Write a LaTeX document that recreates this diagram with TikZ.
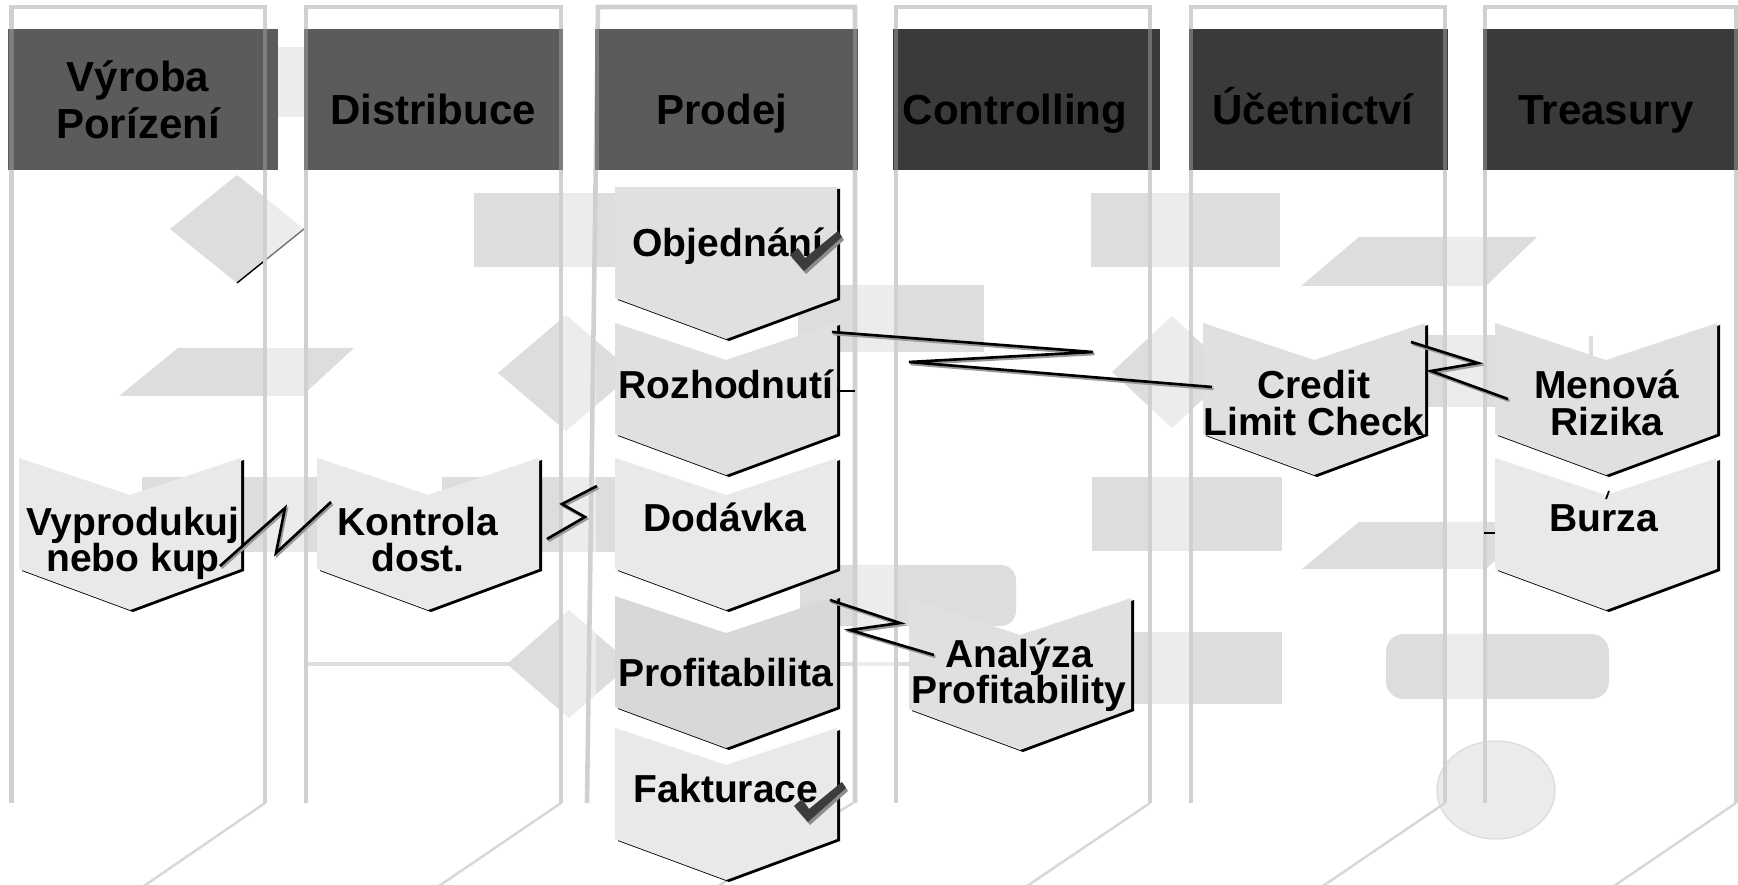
\documentclass[tikz,border=0pt]{standalone}
\usepackage{fontspec}
\setmainfont{Liberation Sans}

\definecolor{hdrdark}{HTML}{5B5B5B}
\definecolor{hdrblack}{HTML}{3A3A3A}
\definecolor{ghostgray}{HTML}{DDDDDD}
\definecolor{ovalgray}{HTML}{EBEBEB}
\definecolor{framegray}{HTML}{D0D0D0}
\definecolor{boxgray}{HTML}{E0E0E0}
\definecolor{boxlight}{HTML}{E9E9E9}
\definecolor{boxdark}{HTML}{D8D8D8}
\definecolor{tickgray}{HTML}{3C3C3C}

% two centred lines, baseline of the first one
\newcommand{\twolines}[2]{\vtop{\lineskiplimit=-\maxdimen\halign{\hfil##\hfil\cr#1\cr#2\cr}}}
% chevron: left x, top y, notch depth, fill
\newcommand{\chevron}[4]{
   \fill[black, shift={(3,2)}] (#1,#2) -- ++(111,#3) -- ++(111,-#3) -- ++(0,111) -- ++(-111,41) -- ++(-111,-41) -- cycle;
   \fill[#4] (#1,#2) -- ++(111,#3) -- ++(111,-#3) -- ++(0,111) -- ++(-111,41) -- ++(-111,-41) -- cycle;
}
% check mark, lower corner at (#1,#2)
\newcommand{\checkmk}[2]{
   \fill[black!45, shift={(#1+2,#2+3)}] (-13,-13) -- (-5,-20) -- (2,-10) -- (35,-37) -- (39,-31) -- (1,3) -- cycle;
   \fill[tickgray, shift={(#1,#2)}] (-13,-13) -- (-5,-20) -- (2,-10) -- (35,-37) -- (39,-31) -- (1,3) -- cycle;
}

\tikzset{
   hdr/.style={font=\bfseries\fontsize{11.95}{13.1}\selectfont, anchor=base, inner sep=0pt},
   lbl/.style={font=\bfseries\fontsize{11.1}{10.25}\selectfont, anchor=base, inner sep=0pt},
   laneline/.style={draw=framegray, line width=1.3pt},
   lanefoot/.style={draw=framegray!85, line width=.7pt},
   hdrstrip/.style={draw=black!37, draw opacity=.5, line width=1.3pt},
   zig/.style={draw=black, line width=.75pt, preaction={draw=black!40, line width=.75pt, transform canvas={shift={(1.5,2)}}}},
   stub/.style={draw=black, line width=.5pt}
}

\begin{document}
\begin{tikzpicture}[x=0.01cm, y=-0.01cm]
   \useasboundingbox (0,0) rectangle (1738,885);

   % Ghost flow in the background
   \fill[ghostgray] (278,47) rectangle (305,117);
   \fill[ghostgray] (170,229) -- (237,175) -- (304,229) -- (237,283) -- cycle;
   \draw[stub, line width=.4pt] (304,229) -- (237,283);
   \fill[ghostgray] (474,193) rectangle (615,267);
   \fill[ghostgray] (798,285) rectangle (984,352);
   \fill[ghostgray] (498,373) -- (566,315) -- (634,373) -- (566,431) -- cycle;
   \fill[ghostgray] (178,348) -- (354,348) -- (302,396) -- (119,396) -- cycle;
   \fill[ghostgray] (142,477) rectangle (350,552);
   \fill[ghostgray] (442,477) rectangle (615,552);
   \fill[ghostgray] (1091,193) rectangle (1280,267);
   \fill[ghostgray] (1359,237) -- (1537,237) -- (1486,286) -- (1301,286) -- cycle;
   \fill[ghostgray] (1112,372) -- (1172,316) -- (1232,372) -- (1172,428) -- cycle;
   \fill[ghostgray] (1420,335) rectangle (1500,407);
   \fill[ghostgray] (1092,477) rectangle (1282,551);
   \fill[ghostgray] (1092,632) rectangle (1282,704);
   \fill[ghostgray] (1359,522) -- (1537,522) -- (1486,569) -- (1302,569) -- cycle;
   \fill[ghostgray, rounded corners=4.3pt] (800,565) rectangle (1016,626);
   \draw[ghostgray, line width=1.4pt] (306,664) -- (909,664);
   \fill[ghostgray] (507,664) -- (569,610) -- (631,664) -- (569,718) -- cycle;
   \fill[ghostgray, rounded corners=5pt] (1386,634) rectangle (1609,699);
   \draw[ghostgray, line width=1.4pt] (1591,336) -- (1591,356);

   % Gaps between the lanes
   \foreach \xa/\xb in {267/304, 563/596, 857/894, 1152/1189, 1447/1483}
      \fill[white, opacity=.45] (\xa,0) rectangle (\xb,735);
   \fill[ovalgray, draw=ghostgray] (1496,790) ellipse [x radius=59, y radius=49];

   % Lanes
   \foreach \xl/\xr/\dx in {11.5/265/124, 306/561/125, 896/1150/126, 1191/1445/125, 1485/1736/125}{
      \draw[laneline] (\xl,803) -- (\xl,7) -- (\xr,7) -- (\xr,803);
      \draw[lanefoot] (\xr,803) -- ++(-\dx,85);
   }
   \draw[laneline] (587,803) -- (598,7) -- (855,7) -- (855,803);
   \draw[lanefoot] (853,803) -- ++(-138,85);

   % Headers
   \fill[hdrdark] (8,29) rectangle (278,170);
   \fill[hdrdark] (304,29) rectangle (563,170);
   \fill[hdrdark] (595,29) rectangle (858,170);
   \fill[hdrblack] (893,29) rectangle (1160,170);
   \fill[hdrblack] (1189,29) rectangle (1448,170);
   \fill[hdrblack] (1483,29) rectangle (1738,170);
   \foreach \x in {11.5,265,306,561,597,855,896,1150,1191,1445,1485,1736}
      \draw[hdrstrip] (\x,29) -- (\x,170);
   \node[hdr] (vyroba) at (138,92) {\twolines{Výroba}{Porízení}};
   \node[hdr] (distribuce) at (433,125) {Distribuce};
   \node[hdr] (prodej) at (722,125) {Prodej};
   \node[hdr] (controlling) at (1015,125) {Controlling};
   \node[hdr] (ucetnictvi) at (1313,125) {Účetnictví};
   \node[hdr] (treasury) at (1606,125) {Treasury};

   % Steps
   \chevron{19}{458}{37}{boxlight}
   \chevron{317}{458}{37}{boxlight}
   \chevron{615}{187}{0}{boxgray}
   \chevron{615}{323}{37}{boxgray}
   \chevron{615}{458}{37}{boxlight}
   \chevron{615}{596}{37}{boxdark}
   \chevron{615}{728}{37}{boxlight}
   \chevron{909}{598}{37}{boxgray}
   \chevron{1203}{323}{37}{boxgray}
   \chevron{1495}{323}{37}{boxgray}
   \chevron{1495}{458}{37}{boxlight}

   \node[lbl] (vyprodukuj) at (133,535) {\twolines{Vyprodukuj}{nebo kup}};
   \node[lbl] (kontrola) at (418,535) {\twolines{Kontrola}{dost.}};
   \node[lbl] (objednani) at (728,257) {Objednání};
   \node[lbl] (rozhodnuti) at (726,399) {Rozhodnutí};
   \node[lbl] (dodavka) at (725,532) {Dodávka};
   \node[lbl] (profitabilita) at (726,686) {Profitabilita};
   \node[lbl] (fakturace) at (726,802) {Fakturace};
   \node[lbl] (analyza) at (1019,667) {\twolines{Analýza}{Profitability}};
   \node[lbl] (credit) at (1314,399) {\twolines{Credit}{Limit Check}};
   \node[lbl] (menova) at (1607,399) {\twolines{Menová}{Rizika}};
   \node[lbl] (burza) at (1604,532) {Burza};

   \checkmk{803}{268}
   \checkmk{807}{819}

   % Links
   \coordinate (vyp-out) at (220,566);
   \coordinate (kon-in) at (331,502);
   \coordinate (kon-out) at (547,539);
   \coordinate (dod-in) at (597,486);
   \coordinate (rozh-out) at (832,332);
   \coordinate (credit-in) at (1212,387);
   \coordinate (credit-out) at (1411,342);
   \coordinate (menova-in) at (1508,399);
   \coordinate (dod-out) at (830,600);
   \coordinate (analyza-in) at (934,655);
   \draw[zig] (vyp-out) -- (285,508) -- (276,553) -- (kon-in);
   \draw[zig] (kon-out) -- (585,517) -- (562,504) -- (dod-in);
   \draw[zig] (rozh-out) -- (1093,352) -- (909,362) -- (credit-in);
   \draw[zig] (credit-out) -- (1478,363) -- (1431,371) -- (menova-in);
   \draw[zig] (dod-out) -- (900,623) -- (850,630) -- (analyza-in);

   \coordinate (rozh-stub) at (837,391);
   \coordinate (burza-stub) at (1495,533);
   \draw[stub] (rozh-stub) -- ++(18,0);
   \draw[stub] (burza-stub) -- ++(-11,0);
   \draw[stub] (1606,499) -- (1609,491);
\end{tikzpicture}
\end{document}
